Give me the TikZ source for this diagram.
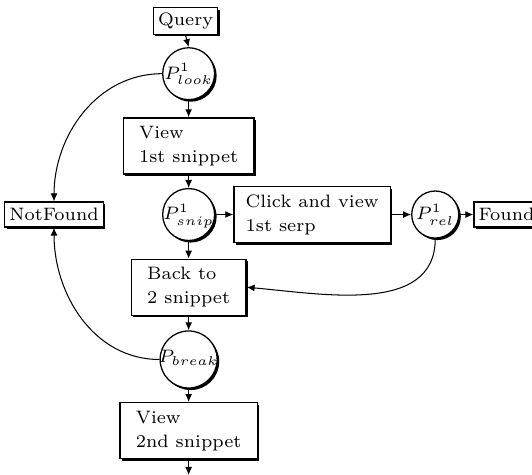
\documentclass[tikz,border=0pt]{standalone}
\usepackage{amsmath}
\usepackage{tikz}
\usetikzlibrary{arrows.meta, shapes, positioning, shadows}
\tikzset{shadowed/.style = {
  drop shadow = {shadow xshift=0.8pt, shadow yshift=-0.8pt, opacity=1, fill=black}
  }}
\tikzset{rect/.style = {
  % Rectangle:
  rectangle,
  draw=black, fill=white, line width=0.5pt,
  shadowed,
  % Text:
  inner xsep=1.8pt, inner ysep=2pt,
  minimum height=9.7pt
  }}
\tikzset{block/.style = {
  % Rectangle:
  rect,
  minimum height=21.8pt,
  % Text:
  align=left, inner xsep=6.2pt
  }}
\tikzset{prob/.style = {
  % Circle:
  circle,
  draw=black, fill=white, line width=0.5pt,
  shadowed,
  inner sep=0pt, minimum size=#1,
  % Text:
  text height=4.2pt, text depth=0pt
  },
  prob/.default=20.2pt}
\tikzset{arrow/.style = {
  -{Latex[length=3.1pt, width=2.7pt]},
  line width=0.4pt,
  draw=black
  }}

\begin{document}
\begin{tikzpicture}[font=\fontsize{7}{9.3}\selectfont]
  \useasboundingbox (0,0) rectangle (207pt,-184.8pt);
  %
  % Specification of nodes
  %
  \node (query) [rect] at (72.2pt,-8.2pt) {Query};
  \node (look) [prob, below = 4.7pt of query, xshift=1.2pt] {\makebox[0pt]{$P^1_{look}$}};
  \node (view1) [block, below = 6.6pt of look] {View\\1st snippet};
  \node (snip) [prob, below = 5.2pt of view1] {\makebox[0pt]{$P^1_{snip}$}};
  \node (click) [block, inner xsep=4.6pt, right = 7pt of snip] {Click and view\\1st serp};
  \node (rel) [prob=18.3pt, right = 7.8pt of click] {\makebox[0pt]{$P^1_{rel}$}};
  \node (found) [rect, right = 5.4pt of rel] {Found};
  \node (notfound) [rect, left = 22.6pt of snip] {NotFound};
  \node (back) [block, below = 6.8pt of snip] {Back to\\2 snippet};
  \node (break) [prob=22.2pt, text height=2.6pt, below = 5.6pt of back] {\makebox[0pt]{$P_{break}$}};
  \node (view2) [block, below = 5.2pt of break] {View\\2nd snippet};
  \coordinate (next) at (view2.south |- 0,-184.8pt);

  %
  % Specification of lines
  %
  \draw [arrow] (query.south) -- (look.north);
  \draw [arrow] (look.south) -- (view1.north);
  \draw [arrow] (view1.south) -- (snip.north);
  \draw [arrow] (snip.east) -- (click.west);
  \draw [arrow] (click.east) -- (rel.west);
  \draw [arrow] (rel.east) -- (found.west);
  \draw [arrow] (snip.south) -- (back.north);
  \draw [arrow] (back.south) -- (break.north);
  \draw [arrow] (break.south) -- (view2.north);
  \draw [arrow] (view2.south) -- (next);

  \draw [arrow] (look.west) to[out=180, in=90] (notfound.north);
  \draw [arrow] (break.west) to[out=180, in=-90] (notfound.south);
  \draw [arrow] (rel.south) to[out=-90, in=-5] (back.east);
\end{tikzpicture}
\end{document}
